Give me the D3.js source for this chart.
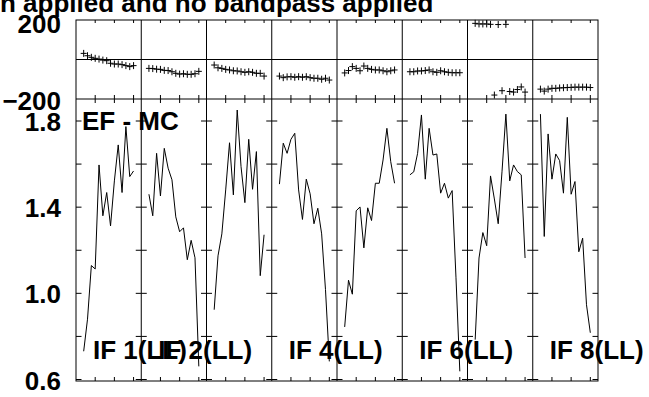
<!DOCTYPE html>
<html><head><meta charset="utf-8">
<script src="https://cdn.jsdelivr.net/npm/d3@7"></script>
<style>html,body{margin:0;padding:0;background:#fff;overflow:hidden}</style>
</head><body><svg id="c" width="649" height="397"></svg>
<script>
// ---------------- data ----------------
const titleText = "n applied and no bandpass applied";
const baselineText = "EF - MC";
const ifNames = ["IF 1","IF 2","IF 3","IF 4","IF 5","IF 6","IF 7","IF 8"];
const ifLabels = ["IF 1(LL)","IF 2(LL)","","IF 4(LL)","","IF 6(LL)","","IF 8(LL)"];
const channels = [2,3,4,5,6,7,8,9,10,11,12,13,14,15];
const chanDomain = [0,17];
const chanTicks = [5,10,15];

const ampIF1 = [0.731,0.88,1.129,1.113,1.596,1.360,1.468,1.313,1.522,1.689,1.468,1.774,1.542,1.568];
const ampIF2 = [1.460,1.360,1.650,1.452,1.673,1.581,1.527,1.355,1.286,1.304,1.156,1.246,1.165,0.661];
const ampIF3 = [0.924,1.174,1.276,1.480,1.699,1.457,1.851,1.588,1.421,1.715,1.483,1.658,1.082,1.272];
const ampIF4 = [1.507,1.697,1.650,1.715,1.743,1.480,1.343,1.530,1.462,1.323,1.395,1.276,1.017,0.684];
const ampIF5 = [0.844,1.061,0.996,1.383,1.401,1.211,1.397,1.338,1.511,1.511,1.619,1.766,1.611,1.511];
const ampIF6 = [1.550,1.564,1.650,1.828,1.530,1.766,1.642,1.647,1.465,1.511,1.442,1.477,1.072,0.638];
const ampIF7 = [0.785,1.164,1.282,1.221,1.545,1.438,1.323,1.567,1.832,1.522,1.596,1.565,1.550,1.164];
const ampIF8 = [1.832,1.264,1.740,1.530,1.647,1.616,1.465,1.817,1.460,1.519,1.193,1.256,0.947,0.817];

const phIF1 = [31,19,11,6,2,-3,-6,-19,-23,-23,-26,-31,-36,-31];
const phIF2 = [-45,-46,-49,-50,-55,-56,-62,-70,-74,-72,-75,-75,-72,-60];
const phIF3 = [-28,-42,-45,-50,-53,-57,-58,-62,-65,-62,-65,-70,-70,-84];
const phIF4 = [-84,-92,-88,-87,-90,-87,-90,-87,-92,-95,-95,-100,-95,-104];
const phIF5 = [-68,-56,-36,-45,-57,-33,-45,-50,-53,-53,-57,-62,-57,-53];
const phIF6 = [-62,-62,-58,-58,-56,-53,-62,-65,-57,-62,-65,-67,-67,-67];
const phIF7 = [183,180,180,180,178,-180,177,-158,178,-162,-165,-152,-139,-165];
const phIF8 = [-150,-160,-150,-146,-146,-144,-143,-142,-141,-140,-140,-140,-140,-142];

const ampTicks = [0.6,0.8,1.0,1.2,1.4,1.6,1.8];
const ampLabelTicks = [0.6,1.0,1.4,1.8];
const phaseDomain = [-200,200];
const phaseLabelTicks = [200,-200];

const ampSeries = [ampIF1,ampIF2,ampIF3,ampIF4,ampIF5,ampIF6,ampIF7,ampIF8];
const phSeries = [phIF1,phIF2,phIF3,phIF4,phIF5,phIF6,phIF7,phIF8];

// ---------------- layout ----------------
const L = 76, R = 598, T = 20, MID = 99, B = 381;
const font = "'Liberation Sans', Arial, Helvetica, sans-serif";
const svg = d3.select("#c");

const col = d3.scaleBand().domain(ifNames).range([L, R]).padding(0);
const yAmp = d3.scaleLinear().domain([0.6, 1.8]).range([379.5, 121]);
const yPh = d3.scaleLinear().domain(phaseDomain).range([MID, T]);
const xChan = name => d3.scaleLinear().domain(chanDomain).range([col(name), col(name) + col.bandwidth()]);

const g = svg.append("g").attr("stroke", "#000").attr("fill", "none").attr("stroke-width", 1);

// frame
g.append("rect").attr("x", L).attr("y", T).attr("width", R - L).attr("height", B - T);
g.append("line").attr("x1", L).attr("x2", R).attr("y1", MID).attr("y2", MID);
g.append("line").attr("x1", L).attr("x2", R).attr("y1", yPh(0)).attr("y2", yPh(0));
ifNames.slice(1).forEach(n => {
  g.append("line").attr("x1", col(n)).attr("x2", col(n)).attr("y1", T).attr("y2", B);
});

// ticks
ifNames.forEach((n, i) => {
  const x = xChan(n);
  chanTicks.forEach(c => {
    const xx = x(c);
    g.append("line").attr("x1", xx).attr("x2", xx).attr("y1", T).attr("y2", T + 3);
    g.append("line").attr("x1", xx).attr("x2", xx).attr("y1", MID - 4).attr("y2", MID + 4);
    g.append("line").attr("x1", xx).attr("x2", xx).attr("y1", B - 4).attr("y2", B);
  });
  const x0 = col(n), x1 = col(n) + col.bandwidth();
  ampTicks.forEach(v => {
    g.append("line").attr("x1", x0).attr("x2", x0 + 5.5).attr("y1", yAmp(v)).attr("y2", yAmp(v));
    g.append("line").attr("x1", x1 - 5.5).attr("x2", x1).attr("y1", yAmp(v)).attr("y2", yAmp(v));
  });
});

// amplitude lines
ifNames.forEach((n, i) => {
  const x = xChan(n);
  const line = d3.line().x((d, j) => x(channels[j])).y(d => yAmp(d));
  g.append("path").attr("d", line(ampSeries[i])).attr("stroke-width", 1);
});

// phase crosses
ifNames.forEach((n, i) => {
  const x = xChan(n);
  g.append("g").selectAll("path").data(phSeries[i]).join("path")
    .attr("d", (d, j) => {
      const cx = x(channels[j]), cy = yPh(d);
      return `M${cx - 3},${cy}h6M${cx},${cy - 3.5}v7`;
    });
});

// texts
const txt = svg.append("g").attr("font-family", font).attr("font-weight", "bold").attr("font-size", 26).attr("fill", "#000");
txt.append("text").attr("x", 0).attr("y", 12).text(titleText);
ampLabelTicks.forEach(v => {
  txt.append("text").attr("x", 61).attr("y", yAmp(v) + 10).attr("text-anchor", "end").text(d3.format(".1f")(v));
});
phaseLabelTicks.forEach(v => {
  txt.append("text").attr("x", 61).attr("y", (v > 0 ? 23 : 100.5) + 9.5).attr("text-anchor", "end")
    .text(v < 0 ? "\u2212" + Math.abs(v) : String(v));
});
txt.append("text").attr("x", 82).attr("y", 130).text(baselineText);
ifNames.forEach((n, i) => {
  if (ifLabels[i]) txt.append("text").attr("x", col(n) + 17).attr("y", 358.7).text(ifLabels[i]);
});
</script>
</body></html>
